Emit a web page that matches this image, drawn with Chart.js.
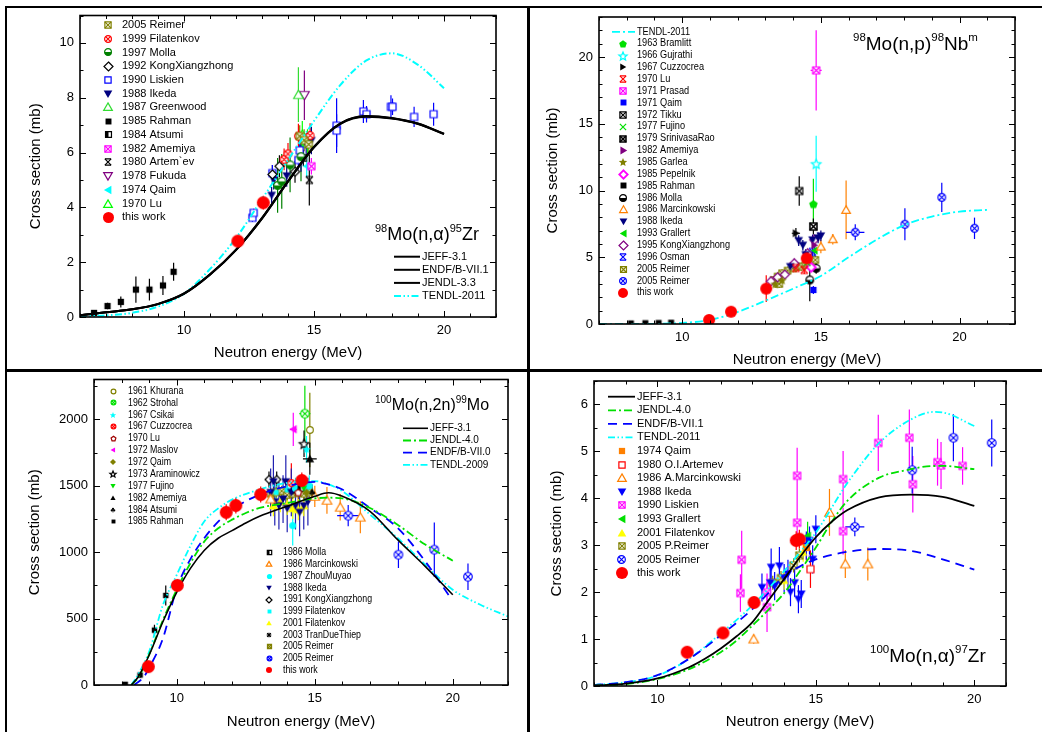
<!DOCTYPE html>
<html><head><meta charset="utf-8">
<script src="https://cdn.jsdelivr.net/npm/chart.js@4.4.1/dist/chart.umd.min.js"></script>
<style>
html,body{margin:0;padding:0;background:#fff}
body{width:1042px;height:732px;position:relative;overflow:hidden}
canvas{position:absolute}
.ln{position:absolute;background:#000}
</style></head><body>
<canvas id="c1" width="520" height="361" style="left:7px;top:8px"></canvas>
<canvas id="c2" width="512" height="361" style="left:530px;top:8px"></canvas>
<canvas id="c3" width="520" height="360" style="left:7px;top:372px"></canvas>
<canvas id="c4" width="512" height="360" style="left:530px;top:372px"></canvas>
<div class="ln" style="left:5px;top:6px;width:2px;height:726px"></div>
<div class="ln" style="left:5px;top:6px;width:1037px;height:2px"></div>
<div class="ln" style="left:527px;top:6px;width:3px;height:726px"></div>
<div class="ln" style="left:5px;top:369px;width:1037px;height:3px"></div>
<script>
// ================= DATA =================
const xTitle = 'Neutron energy (MeV)', yTitle = 'Cross section (mb)';
// ---- Panel 1: 98Mo(n,alpha)95Zr ----
const p1XTicks = [10, 15, 20], p1YTicks = [0, 2, 4, 6, 8, 10];
const p1Reimer05 = [[14.45,6.6,0.4],[14.62,6.45,0.4],[14.8,6.3,0.4]];
const p1Filatenkov99 = [[13.85,5.75,0.4],[14.0,5.95,0.4],[14.4,6.6,0.45],[14.85,6.62,0.45]];
const p1Molla97 = [[13.6,4.8,1.0],[13.76,4.95,1.0],[14.08,5.55,1.0],[14.5,5.85,0.9]];
const p1Kong92 = [[13.4,5.2,0.35],[13.67,5.5,0.4],[14.27,5.3,0.4]];
const p1Liskien90 = [[12.63,3.62,0.15],[12.68,3.8,0.15],[13.4,5.25,0.3],[14.4,5.73,0.35],[14.45,6.08,0.35],[15.87,6.98,1.0,0.12],[15.87,6.8,0.6],[16.9,7.5,0.42,0.12],[17.02,7.4,0.3],[17.96,7.67,0.42,0.12],[18.02,7.67,0.3],[18.85,7.3,0.37,0.1],[19.6,7.4,0.42,0.06]];
const p1Ikeda88 = [[13.37,4.44,0.3],[13.45,5.0,0.35],[13.95,5.15,0.4],[14.5,5.8,0.5],[14.7,6.3,0.4],[14.9,6.44,0.5]];
const p1Greenwood87 = [[14.4,8.11,1.0]];
const p1Rahman85 = [[6.54,0.15,0.08],[7.06,0.4,0.12],[7.57,0.55,0.2],[8.15,1.0,0.48],[8.67,1.0,0.4],[9.19,1.15,0.35],[9.6,1.65,0.33]];
const p1Atsumi84 = [[14.59,5.8,0.3]];
const p1Amemiya82 = [[14.9,5.5,0.3]];
const p1Artemev80 = [[14.82,5.0,0.93]];
const p1Fukuda78 = [[14.63,8.09,0.9]];
const p1Qaim74 = [[14.72,5.5,0.4]];
const p1Lu70 = [[14.55,6.65,0.5],[14.75,6.35,0.5]];
const p1ThisWork = [[12.07,2.77,0.1],[13.05,4.17,0.25]];
const p1JEFF = [[6,0.06],[7,0.17],[8,0.28],[9,0.47],[10,0.85],[11,1.55],[12,2.45],[13,3.6],[14,4.95],[15,6.2],[16,7.05],[17,7.32],[18,7.25],[19,7.05],[20,6.68]];
const p1ENDF = [[6,0.06],[7,0.17],[8,0.28],[9,0.48],[10,0.86],[11,1.56],[12,2.46],[13,3.62],[14,4.96],[15,6.21],[16,7.06],[17,7.33],[18,7.26],[19,7.06],[20,6.69]];
const p1JENDL = [[6,0.06],[7,0.17],[8,0.28],[9,0.47],[10,0.84],[11,1.54],[12,2.44],[13,3.59],[14,4.94],[15,6.19],[16,7.04],[17,7.31],[18,7.24],[19,7.04],[20,6.67]];
const p1TENDL = [[6,0.02],[7,0.06],[8,0.15],[9,0.38],[10,0.85],[11,1.75],[12,2.88],[13,4.3],[14,5.73],[15,7.15],[16,8.45],[17,9.35],[18,9.62],[19,9.2],[20,8.35]];

// ---- Panel 2: 98Mo(n,p)98Nbm ----
const p2XTicks = [10, 15, 20], p2YTicks = [0, 5, 10, 15, 20];
const p2Bramlitt63 = [[14.73,8.99,1.9]];
const p2Gujrathi66 = [[14.83,12.0,2.1]];
const p2Cuzzocrea67 = [[14.1,6.8,0.4,0.15]];
const p2Lu70 = [[14.1,4.2,0.3],[14.4,4.05,0.3]];
const p2Prasad71 = [[14.83,19.0,3.0,0.2]];
const p2Qaim71 = [[14.73,2.55,0.3]];
const p2Tikku72 = [[14.22,9.96,1.1]];
const p2Fujino77 = [[14.5,4.6,0.3]];
const p2Srinivasa79 = [[14.73,7.3,0.6]];
const p2Amemiya82 = [[14.77,5.9,0.4]];
const p2Garlea85 = [[13.35,3.0,0.3],[13.6,3.3,0.3]];
const p2Pepelnik85 = [[14.65,4.25,0.3]];
const p2Rahman85 = [[8.15,0.05],[8.67,0.07],[9.15,0.08],[9.6,0.1]];
const p2Molla86 = [[14.6,3.3,1.6],[14.83,4.17,0.4]];
const p2Marcinkowski86 = [[15.0,5.8,0.5],[15.43,6.35,0.4],[15.91,8.55,2.2]];
const p2Ikeda88 = [[13.9,4.3,0.3],[14.2,6.25,0.4],[14.35,5.9,0.4],[14.45,5.2,0.4],[14.7,6.3,0.4],[14.9,6.45,0.4],[15.0,6.6,0.4]];
const p2Grallert93 = [[14.77,5.5,0.4]];
const p2Kong95 = [[13.2,3.2,0.3],[13.44,3.5,0.3],[13.7,3.7,0.3],[14.04,4.55,0.35],[14.52,5.3,0.35],[14.76,6.3,0.4]];
const p2Osman96 = [[14.7,5.4,0.4]];
const p2Reimer05a = [[13.3,3.3,0.3],[13.44,3.55,0.3],[13.5,3.0,0.3],[13.6,3.8,0.3],[13.8,4.0,0.3],[14.0,4.17,0.3],[14.15,4.3,0.3],[14.3,4.3,0.3],[14.45,4.45,0.3],[14.6,4.55,0.3],[14.8,4.8,0.3]];
const p2Reimer05b = [[16.24,6.87,0.6,0.33],[18.03,7.47,1.2],[19.36,9.49,1.1],[20.54,7.17,0.8]];
const p2ThisWork = [[10.97,0.3,0.05],[11.76,0.92,0.1],[13.03,2.65,1.0],[14.49,4.92,0.3]];
const p2TENDL = [[7,0],[8,0],[9,0.01],[10,0.08],[11,0.3],[12,0.9],[13,1.75],[14,2.65],[15,3.6],[16,5.0],[17,6.3],[18,7.4],[19,8.05],[20,8.42],[21,8.55]];

// ---- Panel 3: 100Mo(n,2n)99Mo ----
const p3XTicks = [10, 15, 20], p3YTicks = [0, 500, 1000, 1500, 2000];
const p3Khurana61 = [[14.82,1920,280]];
const p3Strohal62 = [[14.64,2043,210,0.2]];
const p3Csikai67 = [[14.7,1775,100]];
const p3Cuzzocrea67 = [[14.15,1520,150]];
const p3Lu70 = [[14.4,1450,100]];
const p3Maslov72 = [[14.22,1925,125,0.12]];
const p3Qaim72 = [[14.7,1450,80]];
const p3Araminowicz73 = [[14.61,1816,100]];
const p3Fujino77 = [[14.6,1480,80]];
const p3Amemiya82 = [[14.82,1703,120,0.25]];
const p3Atsumi84 = [[14.9,1450,60]];
const p3Rahman85 = [[8.13,5,10],[8.67,75,20],[9.19,413,40],[9.6,674,75]];
const p3Molla86 = [[14.5,1480,60]];
const p3Marcinkowski86 = [[13.4,1400,80],[15.0,1420,80],[15.44,1390,100],[15.92,1338,100],[16.65,1263,120]];
const p3Zhou87 = [[14.2,1200,150],[14.3,1480,80],[14.6,1500,80],[14.8,1500,80]];
const p3Ikeda88 = [[13.4,1450,180],[13.5,1530,200],[13.55,1380,180],[13.7,1350,180],[13.85,1400,180],[13.95,1530,200],[14.0,1330,180],[14.15,1450,180],[14.3,1350,180],[14.45,1300,180],[14.6,1350,180],[14.75,1380,180]];
const p3Kong91 = [[13.34,1547,60],[13.62,1547,60]];
const p3Filatenkov99 = [[13.6,1450,50],[14.0,1470,50],[14.4,1480,50],[14.7,1480,50]];
const p3Filatenkov01 = [[13.5,1350,80],[13.75,1380,80],[14.0,1360,80],[14.2,1330,80],[14.4,1320,80],[14.6,1350,80]];
const p3TranDue03 = [[14.2,1460,50]];
const p3Reimer05a = [[13.4,1440,40],[13.6,1450,40],[13.8,1460,40],[14.0,1430,40],[14.2,1440,40],[14.4,1450,40],[14.6,1440,40],[14.8,1450,40]];
const p3Reimer05b = [[16.21,1275,80,0.4],[18.03,981,100],[19.33,1019,205],[20.55,815,100]];
const p3ThisWork = [[8.97,138,30],[10.02,750,40],[11.79,1300,60],[12.14,1351,60],[13.04,1434,60],[14.53,1540,60]];
const p3JEFF = [[8.35,0],[8.6,60],[9,226],[9.5,478],[10,700],[10.5,880],[11,1015],[11.5,1105],[12,1162],[12.5,1220],[13,1270],[14,1346],[15,1421],[15.5,1447],[16,1421],[17,1308],[18,1094],[19,893],[20,679]];
const p3JENDL = [[8.35,0],[8.6,55],[9,230],[9.5,490],[10,720],[10.5,920],[11,1081],[11.5,1180],[12,1245],[12.5,1295],[13,1333],[14,1371],[15,1405],[15.5,1410],[16,1405],[17,1333],[18,1207],[19,1057],[20,936]];
const p3ENDF = [[8.45,0],[8.8,60],[9,130],[9.5,352],[10,730],[10.5,950],[11,1107],[11.5,1230],[12,1320],[13,1434],[14,1497],[15,1530],[15.5,1510],[16,1472],[17,1333],[18,1183],[19,931],[19.9,662]];
const p3TENDL = [[8.35,0],[8.6,80],[9,252],[9.5,604],[10,830],[10.5,1050],[11,1233],[11.5,1330],[12,1396],[13,1472],[14,1522],[15,1535],[15.5,1510],[16,1459],[17,1283],[18,1107],[19,906],[20,717],[21,604],[22,516]];

// ---- Panel 4: 100Mo(n,alpha)97Zr ----
const p4XTicks = [10, 15, 20], p4YTicks = [0, 1, 2, 3, 4, 5, 6];
const p4Qaim74 = [[14.7,2.95,0.3]];
const p4Artemev80 = [[14.83,2.49,0.4]];
const p4Marcinkowski86 = [[13.04,1.0,0.1],[15.43,3.7,0.5],[15.93,2.6,0.3],[16.64,2.6,0.35]];
const p4Ikeda88 = [[13.3,2.1,0.3],[13.56,2.2,0.3],[13.59,2.53,0.4],[13.7,2.13,0.3],[13.85,2.56,0.4],[14.0,2.3,0.3],[14.12,2.39,0.3],[14.2,2.0,0.3],[14.33,2.2,0.3],[14.45,1.85,0.3],[14.54,1.96,0.3],[14.7,2.99,0.3],[14.8,3.1,0.3],[14.9,2.7,0.3],[15.0,3.34,0.3]];
const p4Liskien90 = [[12.62,1.98,0.4],[12.66,2.69,0.62],[13.46,2.0,0.4],[13.46,1.68,0.53],[14.41,4.48,0.6],[14.41,3.48,0.4],[15.86,4.41,0.6],[15.86,3.3,0.5],[16.97,5.18,0.6],[17.95,5.29,0.6],[18.06,4.3,0.6],[18.84,4.77,0.5],[18.95,4.7,0.5],[19.63,4.69,0.4]];
const p4Grallert93 = [[14.74,3.2,0.3]];
const p4Filatenkov01 = [[14.0,2.25,0.2],[14.6,2.85,0.2]];
const p4PReimer05 = [[13.64,2.2,0.15],[13.9,2.3,0.15],[14.3,2.57,0.15],[14.48,2.78,0.15]];
const p4Reimer05 = [[16.23,3.39,0.2,0.3],[18.04,4.6,0.5],[19.34,5.29,0.5],[20.55,5.18,0.5]];
const p4ThisWork = [[10.94,0.72,0.12],[12.07,1.13,0.08],[13.05,1.78,0.1],[14.38,3.1,0.2],[14.48,3.13,0.2]];
const p4JEFF = [[8,0.01],[9,0.05],[10,0.16],[11,0.4],[11.5,0.58],[12,0.8],[12.5,1.06],[13,1.36],[13.5,1.82],[14,2.28],[14.5,2.75],[15,3.17],[15.5,3.5],[16,3.75],[17,4.02],[18,4.08],[19,4.03],[20,3.84]];
const p4JENDL = [[8,0.01],[9,0.04],[10,0.15],[11,0.36],[12,0.72],[12.5,0.97],[13,1.29],[13.5,1.62],[14,1.98],[14.5,2.45],[15,2.95],[15.5,3.5],[16,3.95],[17,4.44],[18,4.62],[18.5,4.68],[19,4.69],[20,4.62]];
const p4ENDF = [[8,0.02],[9,0.08],[10,0.23],[11,0.58],[12,1.08],[13,1.64],[13.5,1.98],[14,2.35],[14.5,2.55],[15,2.7],[16,2.86],[17,2.92],[18,2.88],[19,2.7],[20,2.48]];
const p4TENDL = [[8,0.02],[9,0.08],[10,0.22],[11,0.58],[12,1.12],[13,1.72],[14,2.45],[14.5,2.85],[15,3.27],[16,4.33],[17,5.18],[18,5.68],[18.7,5.84],[19,5.83],[20,5.54]];

// ================= HELPERS =================
const FONT = "'Liberation Sans', Arial, Helvetica, sans-serif";
Chart.defaults.font.family = FONT;
Chart.defaults.color = '#000';

function mk(shape, col, r, lw) {
  lw = lw || 1.2;
  const s = Math.ceil(2 * r + lw + 4), m = s / 2;
  const c = document.createElement('canvas'); c.width = s; c.height = s;
  const g = c.getContext('2d');
  g.strokeStyle = col; g.fillStyle = col; g.lineWidth = lw;
  const poly = (n, a0, rr, cx, cy) => { g.beginPath(); for (let k = 0; k < n; k++) { const a = a0 + k * 2 * Math.PI / n; const X = cx + rr * Math.cos(a), Y = cy + rr * Math.sin(a); if (k) g.lineTo(X, Y); else g.moveTo(X, Y); } g.closePath(); };
  const white = () => { g.fillStyle = '#fff'; g.fill(); g.fillStyle = col; };
  const cross = a => { g.beginPath(); g.moveTo(m - a, m - a); g.lineTo(m + a, m + a); g.moveTo(m + a, m - a); g.lineTo(m - a, m + a); g.stroke(); };
  const starP = rr => { g.beginPath(); for (let k = 0; k < 10; k++) { const a = -Math.PI / 2 + k * Math.PI / 5, q = k % 2 ? rr * 0.45 : rr; const X = m + q * Math.cos(a), Y = m + q * Math.sin(a) + rr * 0.1; if (k) g.lineTo(X, Y); else g.moveTo(X, Y); } g.closePath(); };
  const a = r * 0.78, sh = r * 0.18;
  switch (shape) {
    case 'fc': g.beginPath(); g.arc(m, m, r, 0, 2 * Math.PI); g.fill(); break;
    case 'oc': g.beginPath(); g.arc(m, m, r * 0.85, 0, 2 * Math.PI); white(); g.stroke(); break;
    case 'hc': g.beginPath(); g.arc(m, m, r * 0.85, 0, 2 * Math.PI); white(); g.stroke(); g.beginPath(); g.arc(m, m, r * 0.85, 0, Math.PI); g.closePath(); g.fill(); break;
    case 'xc': g.beginPath(); g.arc(m, m, r * 0.85, 0, 2 * Math.PI); white(); g.stroke(); cross(r * 0.58); break;
    case 'fs': g.fillRect(m - a, m - a, 2 * a, 2 * a); break;
    case 'os': g.beginPath(); g.rect(m - a, m - a, 2 * a, 2 * a); white(); g.stroke(); break;
    case 'xs': g.beginPath(); g.rect(m - a, m - a, 2 * a, 2 * a); white(); g.stroke(); cross(a); break;
    case 'hs': g.beginPath(); g.rect(m - a, m - a, 2 * a, 2 * a); white(); g.stroke(); g.fillRect(m - a, m - a, a, 2 * a); break;
    case 'ft': poly(3, -Math.PI / 2, r, m, m + sh); g.fill(); break;
    case 'ot': poly(3, -Math.PI / 2, r, m, m + sh); white(); g.stroke(); break;
    case 'ftd': poly(3, Math.PI / 2, r, m, m - sh); g.fill(); break;
    case 'otd': poly(3, Math.PI / 2, r, m, m - sh); white(); g.stroke(); break;
    case 'ftl': poly(3, Math.PI, r, m + sh, m); g.fill(); break;
    case 'ftr': poly(3, 0, r, m - sh, m); g.fill(); break;
    case 'od': poly(4, -Math.PI / 2, r, m, m); white(); g.stroke(); break;
    case 'fd': poly(4, -Math.PI / 2, r, m, m); g.fill(); break;
    case 'fp': poly(5, -Math.PI / 2, r, m, m + sh * 0.5); g.fill(); break;
    case 'op': poly(5, -Math.PI / 2, r * 0.9, m, m + sh * 0.5); white(); g.stroke(); break;
    case 'fst': starP(r * 1.1); g.fill(); break;
    case 'ost': starP(r * 1.1); white(); g.stroke(); break;
    case 'x': cross(a); break;
    case 'hx': cross(a); g.beginPath(); g.moveTo(m - a, m - a); g.lineTo(m + a, m - a); g.moveTo(m - a, m + a); g.lineTo(m + a, m + a); g.stroke(); break;
    case 'ast': cross(a * 0.8); g.beginPath(); g.moveTo(m, m - a); g.lineTo(m, m + a); g.moveTo(m - a, m); g.lineTo(m + a, m); g.stroke(); break;
    case 'club': g.beginPath(); g.arc(m, m - r * 0.35, r * 0.38, 0, 7); g.fill(); g.beginPath(); g.arc(m - r * 0.4, m + r * 0.15, r * 0.38, 0, 7); g.fill(); g.beginPath(); g.arc(m + r * 0.4, m + r * 0.15, r * 0.38, 0, 7); g.fill(); g.fillRect(m - r * 0.12, m, r * 0.24, r * 0.85); break;
  }
  return c;
}
const P = arr => arr.map(p => ({ x: p[0], y: p[1], ey: p[2] || 0, ex: p[3] || 0 }));
function pts(key, label, arr, shape, col, r, lr, o) {
  o = o || {};
  return { key, label, data: P(arr), showLine: false, pointStyle: mk(shape, col, r, o.lw), legImg: mk(shape, col, lr || r, o.lw),
    pointRadius: r, pointHoverRadius: r, errCol: o.ec || col, order: o.order !== undefined ? o.order : 1 };
}
function curve(key, label, arr, col, w, dash) {
  return { key, label, data: P(arr), showLine: true, pointRadius: 0, pointHoverRadius: 0, borderColor: col, backgroundColor: col,
    borderWidth: w, borderDash: dash || [], cubicInterpolationMode: 'monotone', fill: false, order: 0, isLine: true };
}

// ================= PLUGINS =================
const errPlugin = { id: 'err', beforeDatasetsDraw(chart) {
  const { ctx, chartArea: ca } = chart; const xs = chart.scales.x, ys = chart.scales.y;
  ctx.save(); ctx.beginPath(); ctx.rect(ca.left, ca.top, ca.width, ca.height); ctx.clip();
  chart.data.datasets.forEach(ds => {
    if (!ds.errCol) return;
    ctx.strokeStyle = ds.errCol; ctx.lineWidth = 1.2;
    ds.data.forEach(p => {
      const px = xs.getPixelForValue(p.x), py = ys.getPixelForValue(p.y);
      ctx.beginPath();
      if (p.ey) { ctx.moveTo(px, ys.getPixelForValue(p.y - p.ey)); ctx.lineTo(px, ys.getPixelForValue(p.y + p.ey)); }
      if (p.ex) { ctx.moveTo(xs.getPixelForValue(p.x - p.ex), py); ctx.lineTo(xs.getPixelForValue(p.x + p.ex), py); }
      ctx.stroke();
    });
  });
  ctx.restore();
} };
const axPlugin = { id: 'ax', afterDatasetsDraw(chart, args, o) {
  const { ctx, chartArea: ca } = chart; const xs = chart.scales.x, ys = chart.scales.y;
  ctx.save(); ctx.strokeStyle = '#000'; ctx.lineWidth = 1;
  const isMaj = (v, arr) => arr.some(t => Math.abs(t - v) < 1e-6);
  const nx = Math.round((xs.max - xs.min) / o.xm);
  for (let k = 0; k <= nx; k++) { const v = xs.min + k * o.xm; const p = Math.round(xs.getPixelForValue(v)) + 0.5; const L = isMaj(v, o.xt) ? 6 : 3.5;
    ctx.beginPath(); ctx.moveTo(p, ca.bottom); ctx.lineTo(p, ca.bottom - L); ctx.moveTo(p, ca.top); ctx.lineTo(p, ca.top + L); ctx.stroke(); }
  const ny = Math.round((ys.max - ys.min) / o.ym);
  for (let k = 0; k <= ny; k++) { const v = ys.min + k * o.ym; const p = Math.round(ys.getPixelForValue(v)) + 0.5; const L = isMaj(v, o.yt) ? 6 : 3.5;
    ctx.beginPath(); ctx.moveTo(ca.left, p); ctx.lineTo(ca.left + L, p); ctx.moveTo(ca.right, p); ctx.lineTo(ca.right - L, p); ctx.stroke(); }
  ctx.lineWidth = 1.6; ctx.strokeRect(ca.left, ca.top, ca.width, ca.height);
  ctx.restore();
} };
const legPlugin = { id: 'leg', afterDraw(chart, args, o) {
  const ctx = chart.ctx, ox = o.ox, oy = o.oy, dsets = chart.data.datasets;
  (o.groups || []).forEach(g => {
    g.items.forEach((key, k) => {
      const ds = dsets.find(d => d.key === key); if (!ds) return;
      const y = g.y + k * g.dy - oy;
      ctx.save();
      if (ds.isLine) {
        ctx.strokeStyle = ds.borderColor; ctx.lineWidth = ds.borderWidth; ctx.setLineDash(ds.borderDash || []);
        ctx.beginPath(); ctx.moveTo(g.lx1 - ox, y); ctx.lineTo(g.lx2 - ox, y); ctx.stroke();
      } else {
        const im = ds.legImg; ctx.drawImage(im, Math.round(g.sx - ox - im.width / 2), Math.round(y - im.height / 2));
      }
      ctx.restore();
      ctx.save(); ctx.font = g.font + 'px ' + FONT; ctx.fillStyle = '#000'; ctx.textBaseline = 'middle'; ctx.textAlign = 'left';
      ctx.translate(g.tx - ox, y); ctx.scale(g.sc || 1, 1); ctx.fillText(ds.label, 0, 0); ctx.restore();
    });
  });
} };
const rxPlugin = { id: 'rx', afterDraw(chart, args, o) {
  const ctx = chart.ctx; ctx.save(); ctx.fillStyle = '#000'; ctx.textBaseline = 'alphabetic';
  let x = o.x - o.ox; const y = o.y - o.oy;
  o.parts.forEach(([t, sup]) => { ctx.font = (sup ? o.sup : o.main) + 'px ' + FONT; ctx.fillText(t, x, sup ? y - o.main * 0.45 : y); x += ctx.measureText(t).width; });
  ctx.restore();
} };

function build(id, cfg) {
  const cv = document.getElementById(id);
  const ox = cfg.ox, oy = cfg.oy, A = cfg.area;
  const padTop = A.t - oy, padRight = ox + cv.width - A.r, yw = A.l - ox, xh = oy + cv.height - A.b;
  return new Chart(cv, {
    type: 'scatter',
    data: { datasets: cfg.datasets },
    options: {
      responsive: false, animation: false, devicePixelRatio: 1, events: [],
      layout: { padding: { top: padTop, right: padRight, left: 0, bottom: 0 } },
      plugins: { legend: { display: false }, tooltip: { enabled: false },
        ax: { xm: cfg.x.minor, ym: cfg.y.minor, xt: cfg.x.ticks, yt: cfg.y.ticks },
        leg: { ox, oy, groups: cfg.legend },
        rx: Object.assign({ ox, oy }, cfg.rx) },
      scales: {
        x: { type: 'linear', min: cfg.x.min, max: cfg.x.max,
          grid: { display: false, drawTicks: false }, border: { display: false },
          ticks: { font: { size: cfg.tf }, color: '#000', padding: 6, maxRotation: 0, autoSkip: false, includeBounds: false, callback: v => String(v) },
          afterBuildTicks: s => { s.ticks = cfg.x.ticks.map(v => ({ value: v })); },
          afterFit: s => { s.height = xh; s.paddingLeft = 0; s.paddingRight = 0; },
          title: { display: true, text: xTitle, font: { size: 15 }, color: '#000', padding: { top: 0, bottom: cfg.xtp } } },
        y: { type: 'linear', min: cfg.y.min, max: cfg.y.max,
          grid: { display: false, drawTicks: false }, border: { display: false },
          ticks: { font: { size: cfg.tf }, color: '#000', padding: 6, autoSkip: false, includeBounds: false, callback: v => String(v) },
          afterBuildTicks: s => { s.ticks = cfg.y.ticks.map(v => ({ value: v })); },
          afterFit: s => { s.width = yw; s.paddingTop = 0; s.paddingBottom = 0; },
          title: { display: true, text: yTitle, font: { size: 15 }, color: '#000', padding: { top: cfg.ytp, bottom: 0 } } }
      }
    },
    plugins: [errPlugin, axPlugin, legPlugin, rxPlugin]
  });
}

// ================= COLOURS =================
const OLV = '#808000', RED = '#ff0000', GRN = '#008000', BLU = '#0000ff', NAVY = '#000080', MAG = '#ff00ff', PUR = '#800080', CYN = '#00ffff', ORG = '#ff8000', LGR = '#00e000', YEL = '#ffff00';
const DDOT = [7, 2.5, 1.5, 2.5, 1.5, 2.5], DDASH = [8, 3, 2, 3], DASH = [9, 6];

// ================= PANEL 1 =================
build('c1', {
  ox: 7, oy: 8, area: { l: 80, r: 496, t: 9, b: 317 }, tf: 13, ytp: 20, xtp: 7,
  x: { min: 6, max: 22, ticks: p1XTicks, minor: 1 }, y: { min: 0, max: 11, ticks: p1YTicks, minor: 1 },
  datasets: [
    curve('jeff', 'JEFF-3.1', p1JEFF, '#000', 2),
    curve('endf', 'ENDF/B-VII.1', p1ENDF, '#000', 2),
    curve('jendl', 'JENDL-3.3', p1JENDL, '#000', 2),
    curve('tendl', 'TENDL-2011', p1TENDL, CYN, 2, DDOT),
    pts('reimer', '2005 Reimer', p1Reimer05, 'xs', OLV, 4.5, 4),
    pts('filat', '1999 Filatenkov', p1Filatenkov99, 'xc', RED, 4.5, 4),
    pts('molla', '1997 Molla', p1Molla97, 'hc', GRN, 4.5, 4),
    pts('kong', '1992 KongXiangzhong', p1Kong92, 'od', '#000', 4.5, 4.5),
    pts('lisk', '1990 Liskien', p1Liskien90, 'os', BLU, 4.5, 4),
    pts('ikeda', '1988 Ikeda', p1Ikeda88, 'ftd', NAVY, 5, 5),
    pts('green', '1987 Greenwood', p1Greenwood87, 'ot', '#33dd33', 5.5, 5),
    pts('rahman', '1985 Rahman', p1Rahman85, 'fs', '#000', 4, 3.8),
    pts('atsumi', '1984 Atsumi', p1Atsumi84, 'hs', '#000', 4, 3.8),
    pts('amem', '1982 Amemiya', p1Amemiya82, 'xs', MAG, 4.5, 4),
    pts('artem', '1980 Artem`ev', p1Artemev80, 'hx', '#000', 4.5, 4),
    pts('fukuda', '1978 Fukuda', p1Fukuda78, 'otd', PUR, 5.5, 5),
    pts('qaim', '1974 Qaim', p1Qaim74, 'ftl', CYN, 5, 5),
    pts('lu', '1970 Lu', p1Lu70, 'ot', '#00ff00', 5.5, 5),
    pts('tw', 'this work', p1ThisWork, 'fc', RED, 6.5, 5.5, { order: -1 })
  ],
  legend: [
    { sx: 108, tx: 122, y: 25, dy: 13.74, font: 11, items: ['reimer','filat','molla','kong','lisk','ikeda','green','rahman','atsumi','amem','artem','fukuda','qaim','lu','tw'] },
    { lx1: 394, lx2: 420, tx: 422, y: 256.7, dy: 13.1, font: 11, items: ['jeff','endf','jendl','tendl'] }
  ],
  rx: { x: 375, y: 240, main: 18, sup: 11, parts: [['98',1],['Mo(n,',0],['α',0],[')',0],['95',1],['Zr',0]] }
});

// ================= PANEL 2 =================
build('c2', {
  ox: 530, oy: 8, area: { l: 599, r: 1015, t: 17, b: 324 }, tf: 13, ytp: 14, xtp: 0,
  x: { min: 7, max: 22, ticks: p2XTicks, minor: 1 }, y: { min: 0, max: 23, ticks: p2YTicks, minor: 1 },
  datasets: [
    curve('tendl', 'TENDL-2011', p2TENDL, CYN, 1.8, DDASH),
    pts('bram', '1963 Bramlitt', p2Bramlitt63, 'fp', LGR, 4.5, 4),
    pts('guj', '1966 Gujrathi', p2Gujrathi66, 'ost', CYN, 4.5, 4),
    pts('cuzz', '1967 Cuzzocrea', p2Cuzzocrea67, 'ftr', '#000', 4.5, 4),
    pts('lu', '1970 Lu', p2Lu70, 'hx', RED, 4.5, 4),
    pts('prasad', '1971 Prasad', p2Prasad71, 'xs', MAG, 4.5, 4),
    pts('qaim', '1971 Qaim', p2Qaim71, 'fs', BLU, 4, 3.8),
    pts('tikku', '1972 Tikku', p2Tikku72, 'xs', '#000', 4.5, 4),
    pts('fujino', '1977 Fujino', p2Fujino77, 'x', LGR, 4.5, 4),
    pts('srini', '1979 SrinivasaRao', p2Srinivasa79, 'xs', '#000', 4.5, 3.8, { lw: 1.6 }),
    pts('amem', '1982 Amemiya', p2Amemiya82, 'ftr', PUR, 4.5, 4.5),
    pts('garlea', '1985 Garlea', p2Garlea85, 'fst', OLV, 4.5, 4),
    pts('pepel', '1985 Pepelnik', p2Pepelnik85, 'od', MAG, 4.5, 4.2, { lw: 1.8 }),
    pts('rahman', '1985 Rahman', p2Rahman85, 'fs', '#000', 3.8, 3.8),
    pts('molla', '1986 Molla', p2Molla86, 'hc', '#000', 4.5, 4),
    pts('marc', '1986 Marcinkowski', p2Marcinkowski86, 'ot', ORG, 5, 4.5),
    pts('ikeda', '1988 Ikeda', p2Ikeda88, 'ftd', NAVY, 5, 4.5),
    pts('grall', '1993 Grallert', p2Grallert93, 'ftl', LGR, 4.5, 4.5),
    pts('kong', '1995 KongXiangzhong', p2Kong95, 'od', PUR, 4.5, 4.5),
    pts('osman', '1996 Osman', p2Osman96, 'hx', BLU, 4.5, 4),
    pts('reimA', '2005 Reimer', p2Reimer05a, 'xs', OLV, 4, 3.8),
    pts('reimB', '2005 Reimer', p2Reimer05b, 'xc', BLU, 4.5, 4),
    pts('tw', 'this work', p2ThisWork, 'fc', RED, 6, 5, { order: -1 })
  ],
  legend: [
    { lx1: 612, lx2: 635, sx: 623, tx: 637, y: 31.8, dy: 11.86, font: 10, sc: 0.92,
      items: ['tendl','bram','guj','cuzz','lu','prasad','qaim','tikku','fujino','srini','amem','garlea','pepel','rahman','molla','marc','ikeda','grall','kong','osman','reimA','reimB','tw'] }
  ],
  rx: { x: 853, y: 50, main: 19, sup: 11.5, parts: [['98',1],['Mo(n,p)',0],['98',1],['Nb',0],['m',1]] }
});

// ================= PANEL 3 =================
build('c3', {
  ox: 7, oy: 372, area: { l: 94, r: 508, t: 379, b: 685 }, tf: 13, ytp: 19, xtp: 1,
  x: { min: 7, max: 22, ticks: p3XTicks, minor: 1 }, y: { min: 0, max: 2300, ticks: p3YTicks, minor: 250 },
  datasets: [
    curve('jeff', 'JEFF-3.1', p3JEFF, '#000', 1.6),
    curve('jendl', 'JENDL-4.0', p3JENDL, LGR, 1.8, DDASH),
    curve('endf', 'ENDF/B-VII.0', p3ENDF, BLU, 1.8, DASH),
    curve('tendl', 'TENDL-2009', p3TENDL, CYN, 1.8, DDOT),
    pts('khur', '1961 Khurana', p3Khurana61, 'oc', OLV, 4, 2.8),
    pts('stroh', '1962 Strohal', p3Strohal62, 'xc', LGR, 5, 2.8),
    pts('csik', '1967 Csikai', p3Csikai67, 'fst', CYN, 4, 3),
    pts('cuzz', '1967 Cuzzocrea', p3Cuzzocrea67, 'xc', RED, 4, 2.8),
    pts('lu', '1970 Lu', p3Lu70, 'op', '#a00000', 4, 2.8),
    pts('maslov', '1972 Maslov', p3Maslov72, 'ftl', MAG, 5, 3),
    pts('qaim', '1972 Qaim', p3Qaim72, 'fd', OLV, 4, 3),
    pts('aram', '1973 Araminowicz', p3Araminowicz73, 'ost', '#000', 4.5, 3),
    pts('fujino', '1977 Fujino', p3Fujino77, 'ftd', LGR, 4, 3),
    pts('amem', '1982 Amemiya', p3Amemiya82, 'ft', '#000', 5, 3),
    pts('atsumi', '1984 Atsumi', p3Atsumi84, 'club', '#000', 4, 3),
    pts('rahman', '1985 Rahman', p3Rahman85, 'fs', '#000', 3.5, 2.5),
    pts('molla', '1986 Molla', p3Molla86, 'hs', '#000', 3.5, 2.8),
    pts('marc', '1986 Marcinkowski', p3Marcinkowski86, 'ot', ORG, 5.5, 3.2),
    pts('zhou', '1987 ZhouMuyao', p3Zhou87, 'fc', CYN, 3.5, 2.6),
    pts('ikeda', '1988 Ikeda', p3Ikeda88, 'ftd', NAVY, 5, 3.2, { ec: '#2020b0' }),
    pts('kong', '1991 KongXiangzhong', p3Kong91, 'od', '#000', 4, 3),
    pts('filat99', '1999 Filatenkov', p3Filatenkov99, 'fs', CYN, 3.2, 2.5),
    pts('filat01', '2001 Filatenkov', p3Filatenkov01, 'ft', YEL, 5.5, 3.2),
    pts('tran', '2003 TranDueThiep', p3TranDue03, 'ast', '#000', 4, 3),
    pts('reimA', '2005 Reimer', p3Reimer05a, 'xs', OLV, 4, 2.6),
    pts('reimB', '2005 Reimer', p3Reimer05b, 'xc', BLU, 5, 2.8),
    pts('tw', 'this work', p3ThisWork, 'fc', RED, 6.5, 3, { order: -1 })
  ],
  legend: [
    { sx: 113, tx: 128, y: 391, dy: 11.88, font: 10, sc: 0.88, items: ['khur','stroh','csik','cuzz','lu','maslov','qaim','aram','fujino','amem','atsumi','rahman'] },
    { sx: 269, tx: 283, y: 552.7, dy: 11.73, font: 10, sc: 0.88, items: ['molla','marc','zhou','ikeda','kong','filat99','filat01','tran','reimA','reimB','tw'] },
    { lx1: 403, lx2: 428, tx: 430, y: 428.3, dy: 12.2, font: 10, items: ['jeff','jendl','endf','tendl'] }
  ],
  rx: { x: 375, y: 410, main: 16, sup: 10, parts: [['100',1],['Mo(n,2n)',0],['99',1],['Mo',0]] }
});

// ================= PANEL 4 =================
build('c4', {
  ox: 530, oy: 372, area: { l: 594, r: 1006, t: 381, b: 686 }, tf: 13, ytp: 18, xtp: 1,
  x: { min: 8, max: 21, ticks: p4XTicks, minor: 1 }, y: { min: 0, max: 6.5, ticks: p4YTicks, minor: 0.5 },
  datasets: [
    curve('jeff', 'JEFF-3.1', p4JEFF, '#000', 1.8),
    curve('jendl', 'JENDL-4.0', p4JENDL, LGR, 1.8, DDASH),
    curve('endf', 'ENDF/B-VII.1', p4ENDF, BLU, 1.8, DASH),
    curve('tendl', 'TENDL-2011', p4TENDL, CYN, 1.8, DDOT),
    pts('qaim', '1974 Qaim', p4Qaim74, 'fs', ORG, 4.5, 4),
    pts('artem', '1980 O.I.Artemev', p4Artemev80, 'os', RED, 4.5, 4),
    pts('marc', '1986 A.Marcinkowski', p4Marcinkowski86, 'ot', ORG, 5.5, 5),
    pts('ikeda', '1988 Ikeda', p4Ikeda88, 'ftd', BLU, 5, 5),
    pts('lisk', '1990 Liskien', p4Liskien90, 'xs', MAG, 4.5, 4),
    pts('grall', '1993 Grallert', p4Grallert93, 'ftl', LGR, 5, 5),
    pts('filat', '2001 Filatenkov', p4Filatenkov01, 'ft', YEL, 5, 5),
    pts('preim', '2005 P.Reimer', p4PReimer05, 'xs', OLV, 4.5, 4),
    pts('reim', '2005 Reimer', p4Reimer05, 'xc', BLU, 5, 4.5),
    pts('tw', 'this work', p4ThisWork, 'fc', RED, 6.5, 6, { order: -1 })
  ],
  legend: [
    { lx1: 608, lx2: 635, sx: 621.7, tx: 637, y: 396.7, dy: 13.58, font: 11,
      items: ['jeff','jendl','endf','tendl','qaim','artem','marc','ikeda','lisk','grall','filat','preim','reim','tw'] }
  ],
  rx: { x: 870, y: 662, main: 19, sup: 11.5, parts: [['100',1],['Mo(n,',0],['α',0],[')',0],['97',1],['Zr',0]] }
});
</script>
</body></html>
